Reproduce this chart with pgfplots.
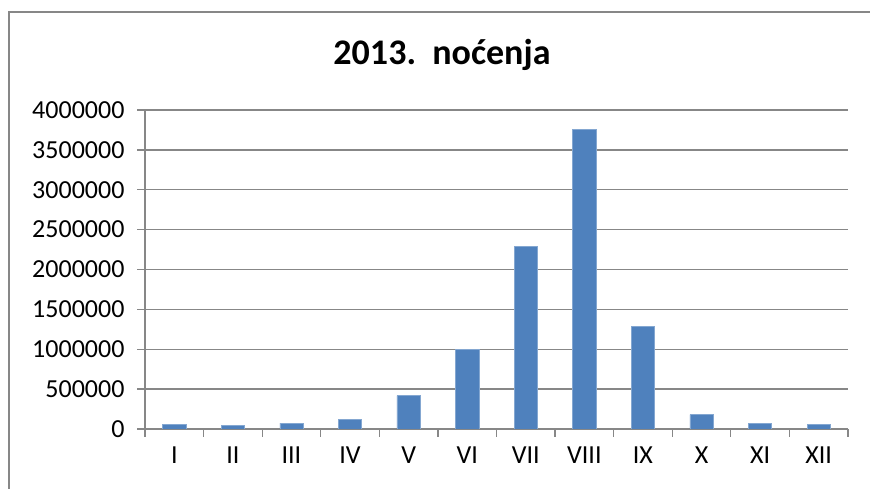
\documentclass[border=0pt]{standalone}
\usepackage{pgfplots}
\pgfplotsset{compat=1.18}
\usepackage{fontspec}
\setmainfont{Carlito}
\definecolor{barblue}{HTML}{4F81BD}
\definecolor{axgray}{HTML}{878787}
\begin{document}
\begin{tikzpicture}[x=1pt,y=1pt]
\useasboundingbox (0,0) rectangle (870,489);
\draw[axgray, line width=1.5pt] (9,-20) -- (9,477) -- (900,477);
\node[font=\fontsize{36}{40}\selectfont\bfseries] at (442,434) {2013.\ \ noćenja};
\begin{axis}[
  at={(145pt,60pt)}, anchor=south west,
  scale only axis, width=703pt, height=319pt,
  xmin=-0.5, xmax=11.5, ymin=0, ymax=4000000,
  axis x line*=bottom, axis y line*=left,
  axis line style={axgray, line width=1.3pt},
  separate axis lines,
  x axis line style={-}, y axis line style={-},
  xtick={0,...,11},
  xticklabels={I,II,III,IV,V,VI,VII,VIII,IX,X,XI,XII},
  minor xtick={-0.5,0.5,...,11.5},
  major x tick style={draw=none},
  minor x tick style={axgray, line width=1.3pt},
  minor tick length=8pt,
  ytick={0,500000,...,4000000},
  major y tick style={axgray, line width=1.3pt},
  major tick length=8pt,
  tick align=outside,
  ymajorgrids,
  grid style={axgray, line width=1.3pt},
  scaled y ticks=false,
  /pgf/number format/assume math mode=true,
  /pgf/number format/fixed,
  /pgf/number format/1000 sep={},
  tick label style={font=\fontsize{26}{30}\selectfont, black},
  yticklabel style={xshift=-9pt},
  xticklabel style={yshift=-6pt},
  ybar, bar width=23.3pt,
]
\addplot[fill=barblue, draw=barblue!70!white, line width=0.6pt] coordinates {
(0,54000) (1,50000) (2,75000) (3,125000) (4,418000) (5,995000)
(6,2285000) (7,3755000) (8,1283000) (9,180000) (10,66000) (11,54000)};
\end{axis}
\end{tikzpicture}
\end{document}
